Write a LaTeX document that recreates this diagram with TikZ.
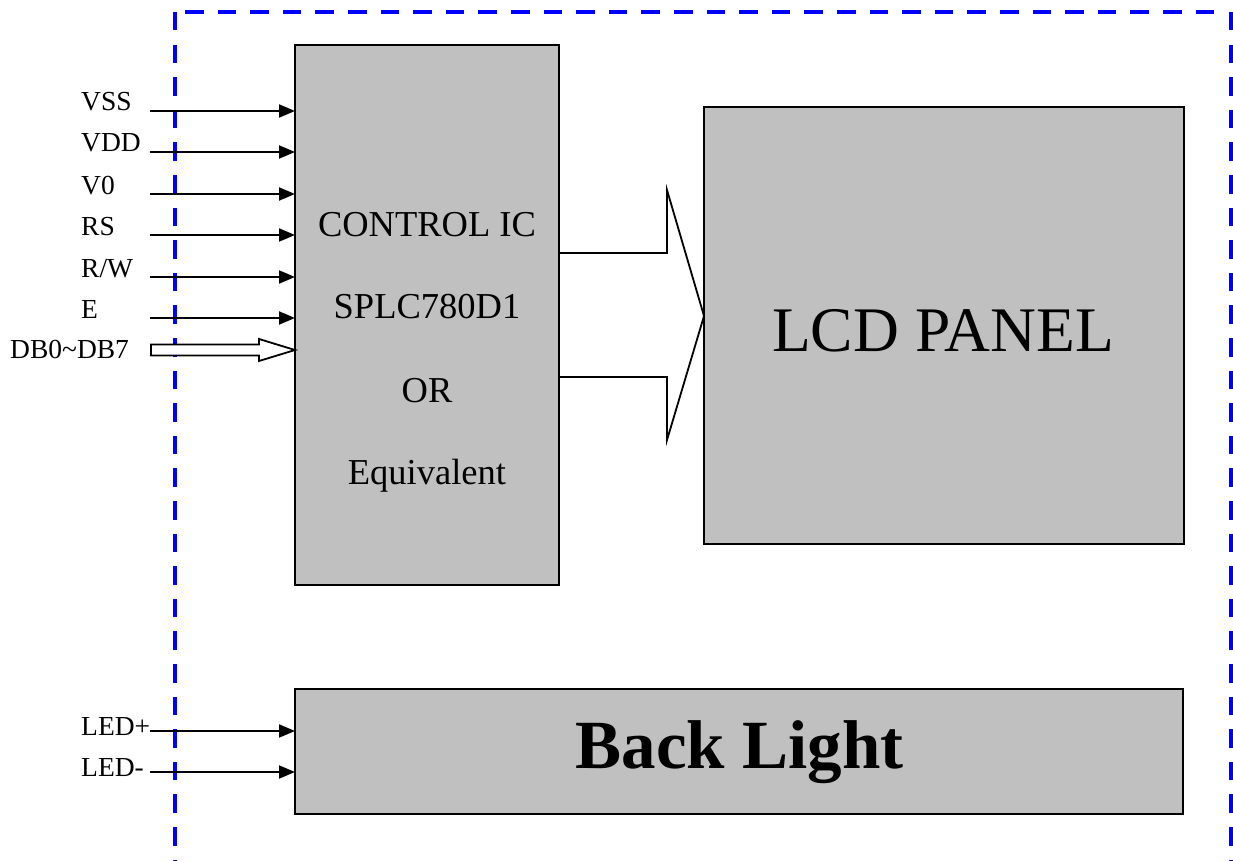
\documentclass[tikz,border=0pt]{standalone}
\usepackage{fontspec}
\setmainfont{Liberation Serif}
\usepackage{tikz}
\usetikzlibrary{positioning, arrows.meta}
\definecolor{blockgray}{RGB}{192,192,192}
\definecolor{frameblue}{RGB}{0,0,255}
\tikzset{
	block/.append style={
		draw,
		line width=1.8pt,
		fill=blockgray,
		inner sep=0pt,
		outer sep=0pt,
	},
	pinlbl/.append style={
		anchor=base west,
		inner sep=0pt,
		font={\fontsize{27.5}{30}\selectfont}
	},
	ictxt/.append style={
		anchor=base,
		inner sep=0pt,
		font={\fontsize{36.5}{40}\selectfont}
	},
	sig/.append style={
		line width=1.9pt,
		-{Triangle[length=16pt,width=13pt]}
	},
	bus/.append style={
		line width=1.8pt,
		line join=miter,
	},
	frame/.append style={
		frameblue,
		line width=4.4pt,
		dash pattern=on 18.5pt off 14.1pt
	}
}
\begin{document}
\begin{tikzpicture}[x=1pt, y=-1pt]
		\useasboundingbox (0,0) rectangle (1233,861);
		% module outline
		\draw[frame] (175,12) -- (175,861);
		\draw[frame] (185,12) -- (1222,12);
		\draw[frame] (1231,12) -- (1231,861);
		
		\node(ic)[block, minimum width=264, minimum height=540] at (427,315){};
		\node(lcd)[block, minimum width=480, minimum height=437] at (944,325.5){};
		\node(bl)[block, minimum width=888, minimum height=125] at (739,751.5){};
		
		\node(ic1)[ictxt] at (427,236){CONTROL IC};
		\node(ic2)[ictxt] at (427,318){SPLC780D1};
		\node(ic3)[ictxt] at (427,402){OR};
		\node(ic4)[ictxt] at (427,484){Equivalent};
		\node(lcdlbl)[anchor=base, inner sep=0pt, font={\fontsize{63.5}{66}\selectfont}] at (943,351){LCD PANEL};
		\node(bllbl)[anchor=base, inner sep=0pt, font={\fontsize{69}{72}\selectfont\bfseries}] at (739.5,768){Back Light};
		
		% pins
		\node(vss)[pinlbl] at (81,111){VSS};
		\node(vdd)[pinlbl] at (81,152){VDD};
		\node(vo)[pinlbl] at (81,194){V0};
		\node(rs)[pinlbl] at (81,235){RS};
		\node(rw)[pinlbl] at (81,277){R/W};
		\node(en)[pinlbl] at (81,318){E};
		\node(db)[pinlbl] at (10,358){DB0\textasciitilde DB7};
		\node(ledp)[pinlbl] at (81,735){LED+};
		\node(ledm)[pinlbl] at (81,776){LED-};
		
		\coordinate(vssin) at (150,111);
		\coordinate(vddin) at (150,152);
		\coordinate(voin) at (150,194);
		\coordinate(rsin) at (150,235);
		\coordinate(rwin) at (150,277);
		\coordinate(enin) at (150,318);
		\coordinate(dbin) at (151,350);
		\coordinate(ledpin) at (150,731);
		\coordinate(ledmin) at (150,772);
		
		\draw[sig] (vssin) -- (vssin -| ic.west);
		\draw[sig] (vddin) -- (vddin -| ic.west);
		\draw[sig] (voin) -- (voin -| ic.west);
		\draw[sig] (rsin) -- (rsin -| ic.west);
		\draw[sig] (rwin) -- (rwin -| ic.west);
		\draw[sig] (enin) -- (enin -| ic.west);
		\draw[sig] (ledpin) -- (ledpin -| bl.west);
		\draw[sig] (ledmin) -- (ledmin -| bl.west);
		
		% data bus
		\draw[bus, fill=white] (dbin) ++(0,-5.5) -- ++(108,0) -- ++(0,-5.5) -- (dbin -| ic.west) -- (259,361) -- ++(0,-5.5) -- ++(-108,0) -- cycle;
		
		% ic to panel
		\draw[bus] (ic.east |- 0,253) -- (667,253) -- (667,190) -- (lcd.west |- 0,316) -- (667,440) -- (667,377) -- (ic.east |- 0,377);
\end{tikzpicture}
\end{document}
